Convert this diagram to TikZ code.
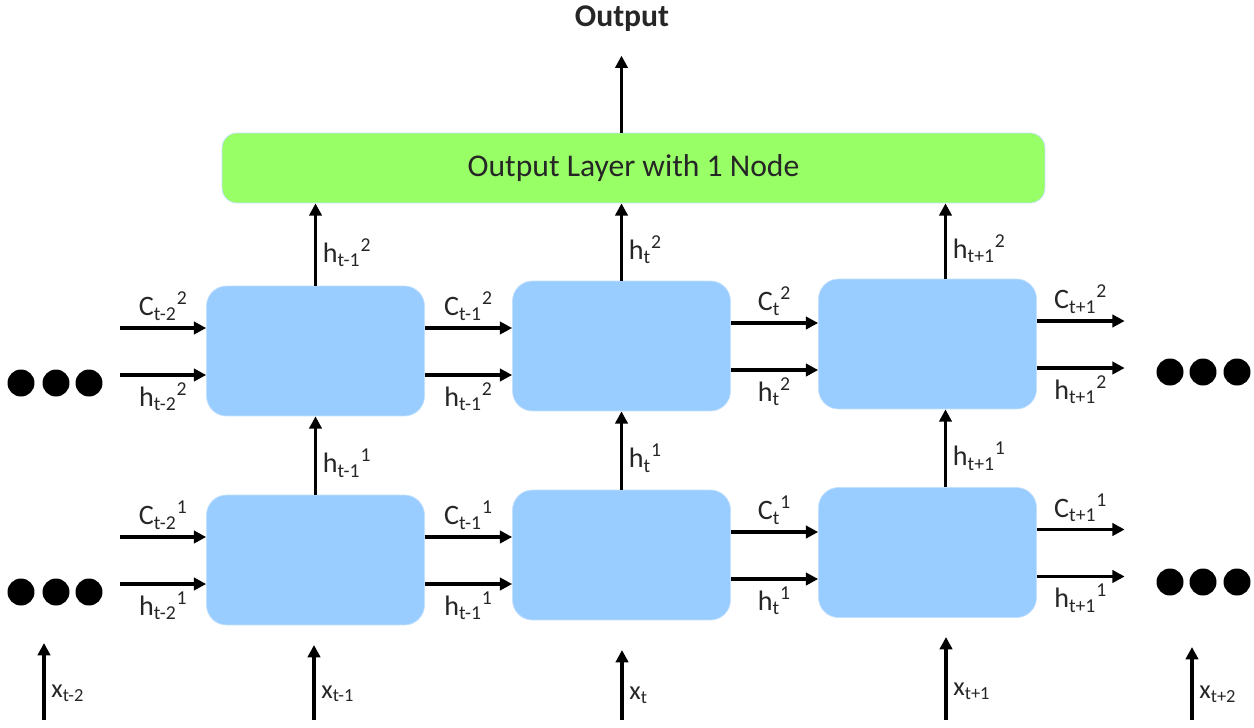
\documentclass[tikz,border=0pt]{standalone}
\usepackage{fontspec}
\setmainfont{Carlito}
\usetikzlibrary{arrows.meta,calc}
\definecolor{cellblue}{HTML}{99CCFF}
\definecolor{outgreen}{HTML}{99FF66}
\newcommand\labsize{\fontsize{16}{18}\selectfont}
\newcommand\titlesize{\fontsize{18}{21}\selectfont}
\newcommand\tsub[3]{#1\textsubscript{#2}\textsuperscript{#3}}
\tikzset{
  cell/.style={draw=cellblue!60!white,fill=cellblue,rounded corners=0.4cm,
    minimum width=4.36cm,minimum height=2.6cm},
  outbox/.style={draw=cellblue!60!white,fill=outgreen,rounded corners=0.3cm,
    minimum width=16.46cm,minimum height=1.4cm,font=\titlesize},
  flow/.style={line width=1.8pt,-{Triangle[length=7pt,width=7pt]}},
  dot/.style={circle,fill=black,minimum size=0.54cm,inner sep=0pt},
  freeend/.style={inner sep=0pt,minimum size=0pt}
}
\begin{document}
\begin{tikzpicture}[x=0.02cm,y=-0.02cm,font=\labsize,text=black!85]
  \useasboundingbox (0,0) rectangle (1254,727);
  \node[font=\titlesize\bfseries] (title) at (622,19) {Output};
  \node[outbox] (outl) at (633.5,168) {\raisebox{-2pt}{Output Layer with 1 Node}};
  \foreach \i/\x/\yt/\yb/\lbl/\dx in {
    1/315.5/351/560/t-1/0, 2/621.5/346/555/t/0,
    3/927.5/344/552.5/t+1/18} {
    \node[cell] (top\i) at (\x,\yt) {};
    \node[cell] (bot\i) at (\x,\yb) {};
    \coordinate (up\i) at ($(top\i.north)+(\dx,0)$);
    \coordinate (mid\i) at ($(bot\i.north)+(\dx,0)$);
    \draw[flow] (up\i) -- (up\i |- outl.south)
      node[pos=0.4,right] {\tsub{h}{\lbl}{2}};
    \draw[flow] (mid\i) -- (mid\i |- top\i.south)
      node[pos=0.4,right] {\tsub{h}{\lbl}{1}};
  }
  \draw[flow] (outl.north -| top2) -- ++(0,-77);
  \node[freeend] (top0) at (120,351) {};
  \node[freeend] (bot0) at (120,560) {};
  \node[freeend] (top4) at (1125,344) {};
  \node[freeend] (bot4) at (1125,552.5) {};
  \foreach \r/\n in {top/2, bot/1} {
    \foreach \a/\b/\lbl in {0/1/t-2, 1/2/t-1, 2/3/t, 3/4/t+1} {
      \coordinate (cs) at ($(\r\a.east)+(0,-23)$);
      \coordinate (hs) at ($(\r\a.east)+(0,24)$);
      \draw[flow] (cs) -- (cs -| \r\b.west)
        node[midway,above] {\tsub{C}{\lbl}{\n}};
      \draw[flow] (hs) -- (hs -| \r\b.west)
        node[midway,below] {\tsub{h}{\lbl}{\n}};
    }
  }
  \foreach \k/\x in {1/21, 2/56, 3/89} {
    \node[dot] (ltop\k) at (\x,383) {};
    \node[dot] (lbot\k) at (\x,592) {};
  }
  \foreach \k/\x in {1/1170, 2/1203, 3/1237} {
    \node[dot] (rtop\k) at (\x,372) {};
    \node[dot] (rbot\k) at (\x,582) {};
  }
  \foreach \k/\x/\yh/\lbl in {
    1/44/643/t-2, 2/314/645/t-1, 3/622/650/t,
    4/946/637/t+1, 5/1192/647/t+2} {
    \coordinate (xin\k) at (\x,720);
    \coordinate (xtip\k) at (\x,\yh);
    \draw[flow] (xin\k) -- (xtip\k)
      node[pos=0.35,right,font=\fontsize{15}{17}\selectfont] {x\textsubscript{\lbl}};
  }
\end{tikzpicture}
\end{document}
